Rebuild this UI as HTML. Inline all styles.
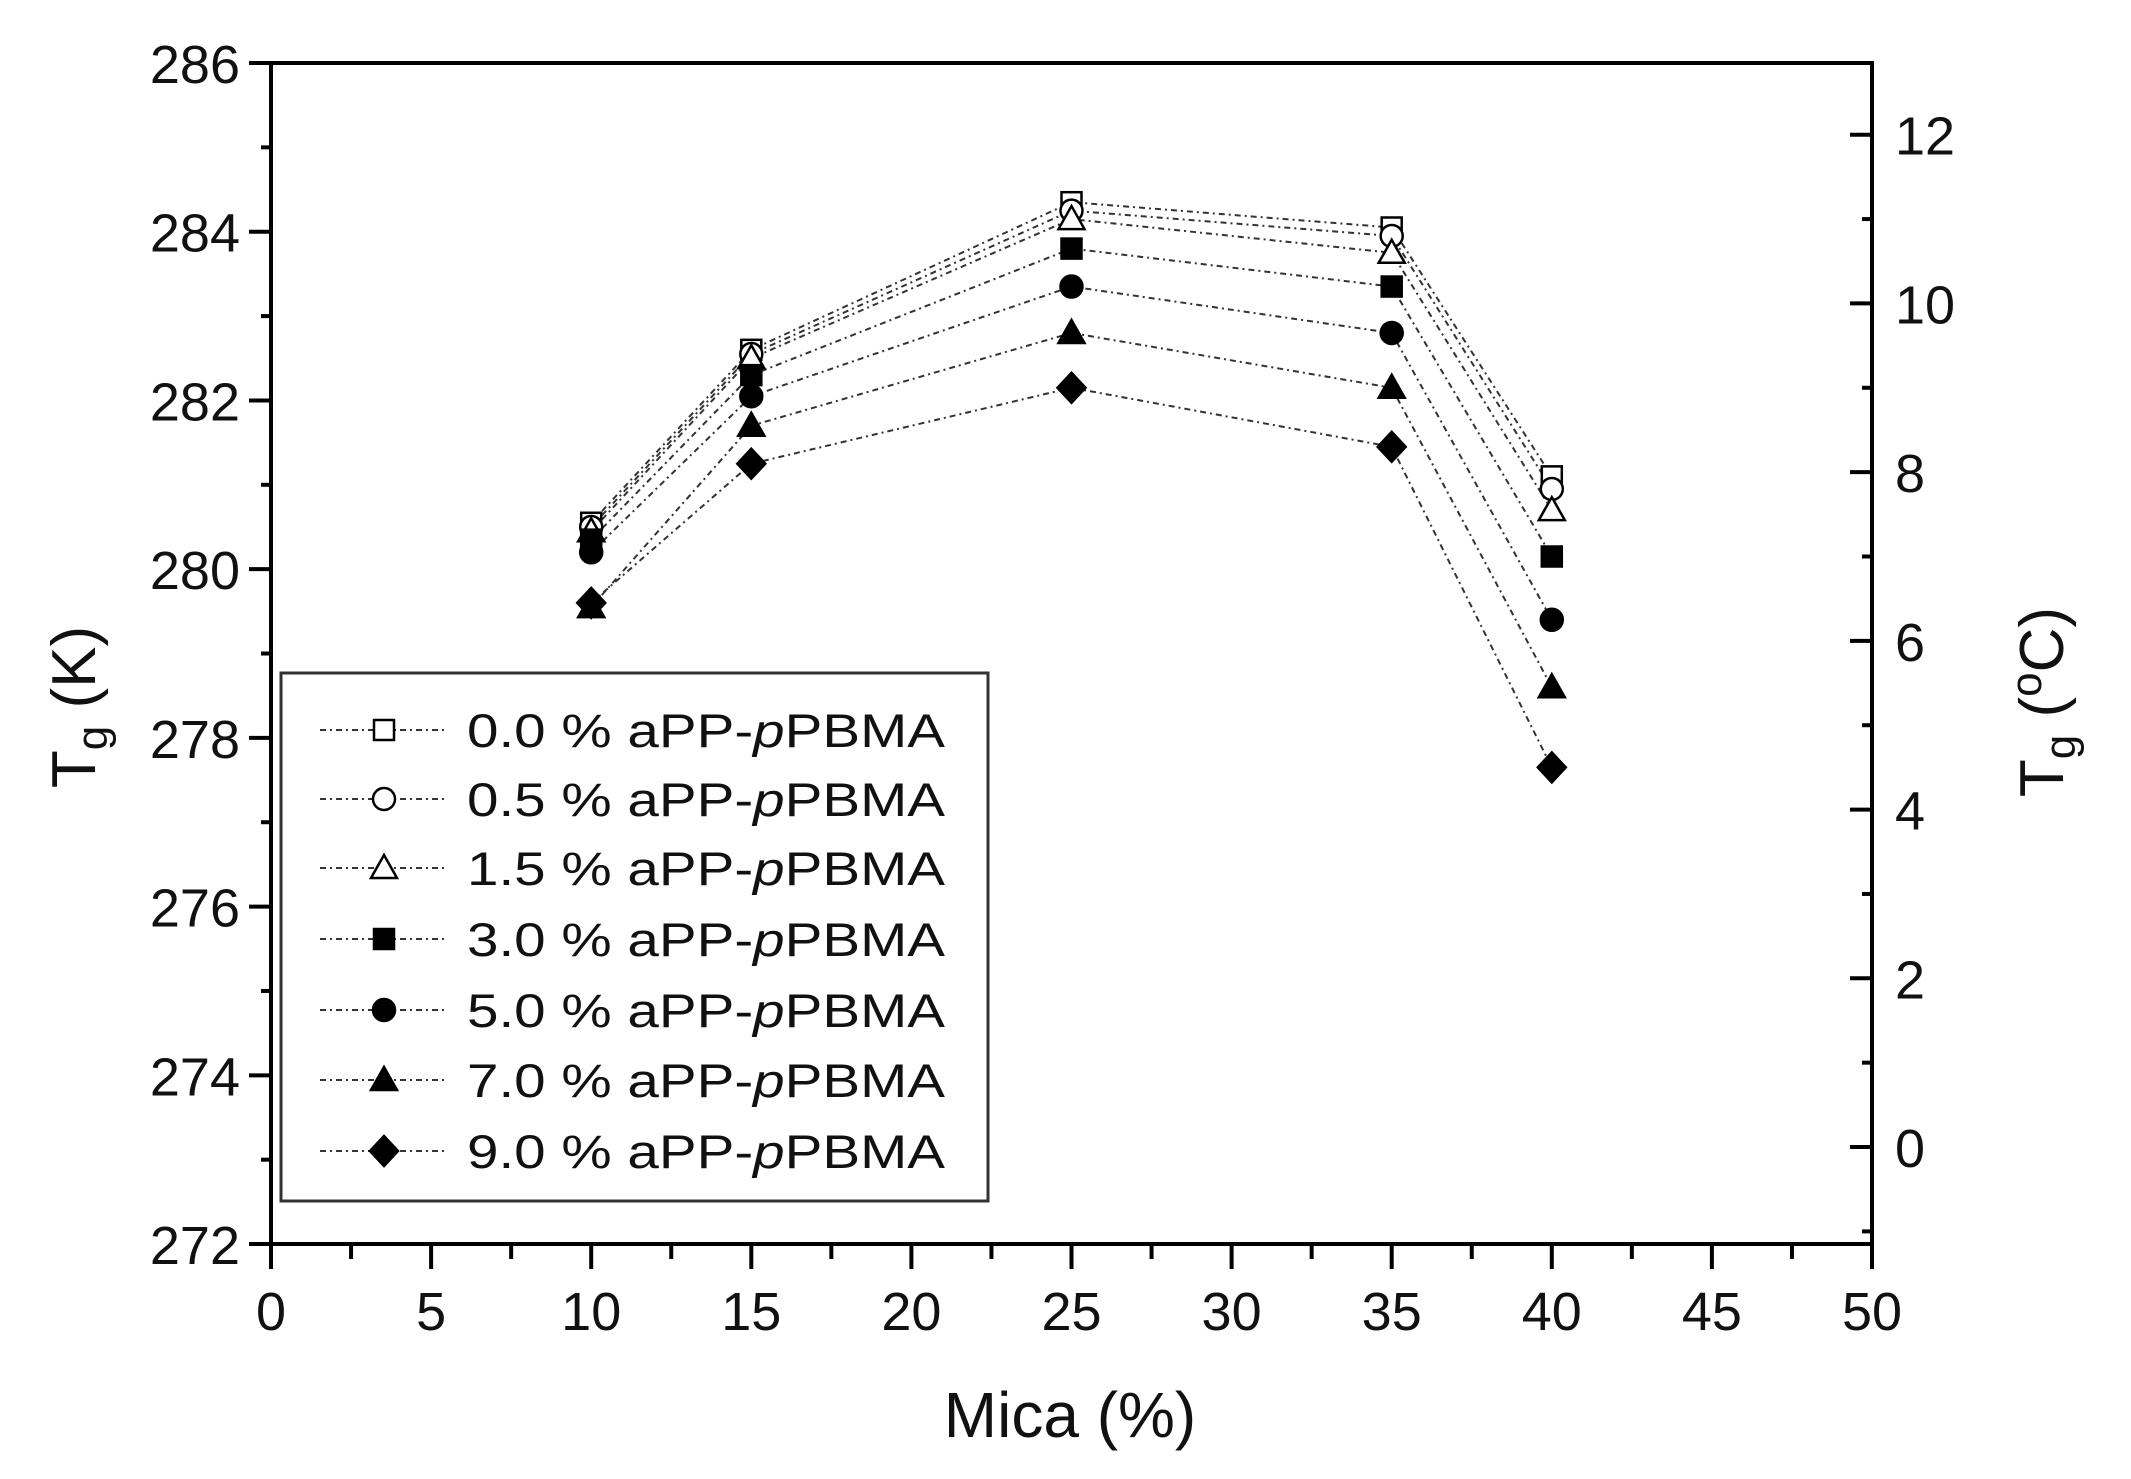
<!DOCTYPE html>
<html><head><meta charset="utf-8"><style>
html,body{margin:0;padding:0;background:#fff}
svg{display:block}
text{font-family:"Liberation Sans",Arial,sans-serif;fill:#111}
</style></head><body>
<svg width="2131" height="1479" viewBox="0 0 2131 1479" xmlns="http://www.w3.org/2000/svg">
<defs>
<g id="sq"><rect x="-9" y="-9" width="18" height="18"/></g>
</defs>
<g id="axes" stroke="#000" stroke-width="4" fill="none">
<line x1="271" y1="63" x2="1872" y2="63"/>
<line x1="271" y1="61" x2="271" y2="1246"/>
<line x1="1872" y1="61" x2="1872" y2="1246"/>
<line x1="250" y1="1244" x2="1874" y2="1244"/>
</g>
<g id="ticks" stroke="#000" stroke-width="4"></g>
<g id="labels" font-size="54"></g>
<text x="1070" y="1437" font-size="64" text-anchor="middle">Mica (%)</text>
<text transform="translate(95,707) rotate(-90)" font-size="62" text-anchor="middle">T<tspan font-size="44" dy="12">g</tspan><tspan dy="-12"> (K)</tspan></text>
<text transform="translate(2063,702) rotate(-90)" font-size="62" text-anchor="middle">T<tspan font-size="44" dy="12">g</tspan><tspan dy="-12"> (</tspan><tspan font-size="44" dy="-22">o</tspan><tspan dy="22">C)</tspan></text>
<g id="series"></g>
<rect x="281" y="673" width="707" height="528" fill="none" stroke="#333" stroke-width="3"/>
<g id="legend"></g>
</svg>
<script>
const NS="http://www.w3.org/2000/svg";
const X=x=>271+x*32.02, Y=k=>63+(286-k)*84.36;
function el(p,t,a,txt){const e=document.createElementNS(NS,t);for(const k in a)e.setAttribute(k,a[k]);if(txt!=null)e.textContent=txt;document.getElementById(p).appendChild(e);return e;}
for(let i=0;i<=20;i++){const x=X(i*2.5),maj=i%2==0;el('ticks','line',{x1:x,y1:1244,x2:x,y2:1244+(maj?25:15)});
 if(maj)el('labels','text',{x:x,y:1330,'text-anchor':'middle'},String(i*2.5));}
for(let k=272;k<=286;k+=1){const y=Y(k),maj=k%2==0;el('ticks','line',{x1:271,y1:y,x2:271-(maj?22:10),y2:y});
 if(maj)el('labels','text',{x:240,y:y+20,'text-anchor':'end'},String(k));}
for(let c=-1;c<=12;c++){const y=Y(c+273.15),maj=c%2==0;el('ticks','line',{x1:1872,y1:y,x2:1872-(maj?22:10),y2:y});
 if(maj)el('labels','text',{x:1895,y:y+20},String(c));}
const xs=[10,15,25,35,40];
const data=[[280.55,282.6,284.35,284.05,281.1],[280.5,282.55,284.25,283.95,280.95],[280.45,282.5,284.15,283.75,280.7],
[280.35,282.3,283.8,283.35,280.15],[280.2,282.05,283.35,282.8,279.4],[279.55,281.7,282.8,282.15,278.6],[279.6,281.25,282.15,281.45,277.65]];
const names=["0.0","0.5","1.5","3.0","5.0","7.0","9.0"];
function marker(p,i,cx,cy){const f=i>=3?'#000':'#fff',s={stroke:'#000','stroke-width':2.5,fill:f};
 const m=i%3===0?'sq':(i%3===1?'ci':'tr'); const t=i===6?'di':m;
 if(t==='sq')el(p,'rect',Object.assign({x:cx-10,y:cy-10,width:20,height:20},s));
 else if(t==='ci')el(p,'circle',Object.assign({cx:cx,cy:cy,r:11},s));
 else if(t==='tr')el(p,'polygon',Object.assign({points:`${cx},${cy-13} ${cx+13},${cy+10} ${cx-13},${cy+10}`},s));
 else el(p,'polygon',Object.assign({points:`${cx},${cy-15} ${cx+14},${cy} ${cx},${cy+15} ${cx-14},${cy}`},s));}
data.forEach((d,i)=>{el('series','polyline',{points:d.map((k,j)=>X(xs[j])+','+Y(k)).join(' '),fill:'none',stroke:'#333','stroke-width':2,'stroke-dasharray':'6,4,2,4'});});
data.forEach((d,i)=>d.forEach((k,j)=>marker('series',i,X(xs[j]),Y(k))));
const ly=[730,799,868,939,1010,1080,1151];
names.forEach((n,i)=>{const y=ly[i];el('legend','line',{x1:320,y1:y,x2:445,y2:y,stroke:'#333','stroke-width':2,'stroke-dasharray':'6,4,2,4'});
 marker('legend',i,384,y);
 const t=el('legend','text',{x:467,y:y+17,'font-size':47,textLength:478,lengthAdjust:'spacingAndGlyphs'});
 t.appendChild(document.createTextNode(n+' % aPP-'));
 const it=document.createElementNS(NS,'tspan');it.setAttribute('font-style','italic');it.textContent='p';t.appendChild(it);
 t.appendChild(document.createTextNode('PBMA'));});
</script>
</body></html>
